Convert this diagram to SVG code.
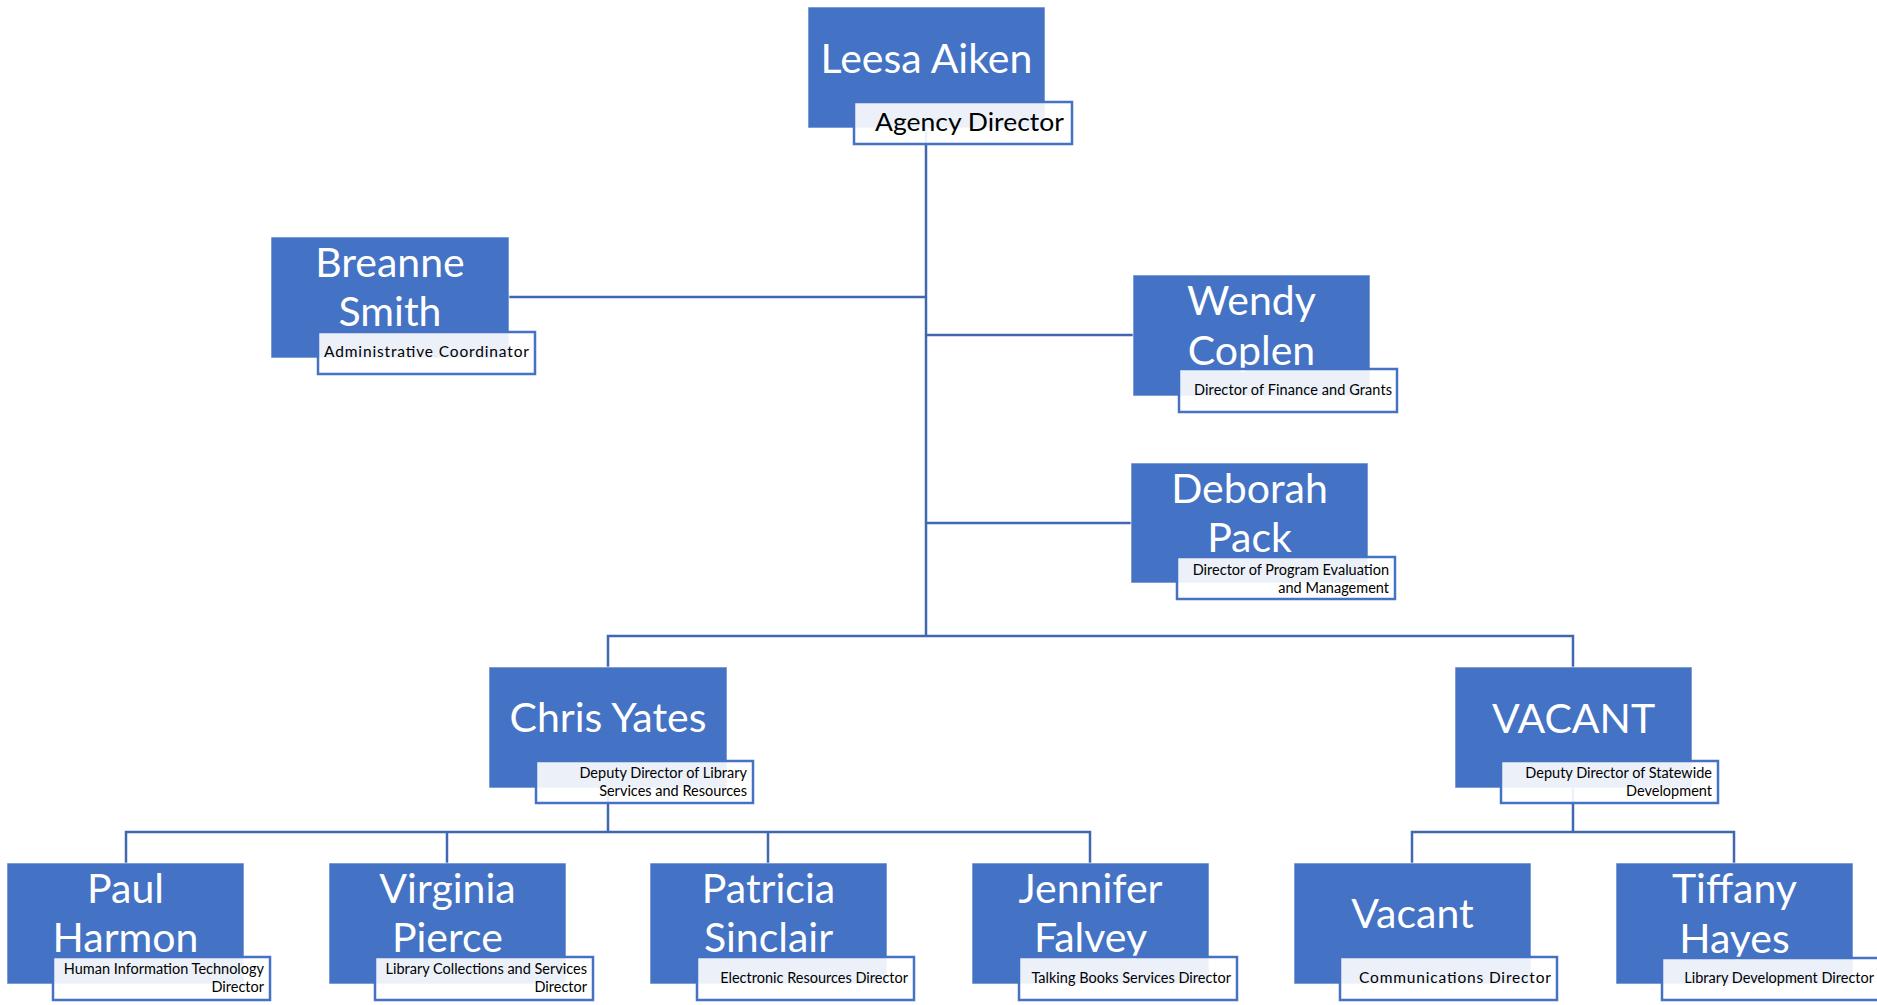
<svg xmlns="http://www.w3.org/2000/svg" width="1877" height="1005" viewBox="0 0 1877 1005">
<style>
.bg{fill:#ffffff}
.box{fill:#4472C4;stroke:#ffffff;stroke-opacity:0.6;stroke-width:1}
.lbl{fill:#ffffff;fill-opacity:0.9;stroke:#4472C4;stroke-width:2.5}
.conn{fill:none;stroke:#4068B0;stroke-width:2.5}
.name{font-family:Lato,"Liberation Sans",sans-serif;font-size:41px;fill:#ffffff;text-anchor:middle}
.t{font-family:Lato,"Liberation Sans",sans-serif;font-size:14.5px;fill:#000000;text-anchor:end}
.tm{font-family:Lato,"Liberation Sans",sans-serif;font-size:15.5px;fill:#000000;text-anchor:end}
.tb{font-family:Lato,"Liberation Sans",sans-serif;font-size:25px;fill:#000000;text-anchor:end}
</style>
<rect class="bg" x="0" y="0" width="1877" height="1005"/>
<g id="connectors">
<path class="conn" d="M926 128 V636"/>
<path class="conn" d="M509 297 H926"/>
<path class="conn" d="M926 335 H1133"/>
<path class="conn" d="M926 523 H1131"/>
<path class="conn" d="M608 667 V636 H1573 V667"/>
<path class="conn" d="M608 788 V832"/>
<path class="conn" d="M126 863 V832 H1090 V863"/>
<path class="conn" d="M447 832 V863"/>
<path class="conn" d="M768 832 V863"/>
<path class="conn" d="M1573 788 V832"/>
<path class="conn" d="M1412 863 V832 H1734 V863"/>
</g>
<g id="leesa">
<rect class="box" x="808" y="7" width="237" height="121"/>
<text class="name" x="926.5" y="73">Leesa Aiken</text>
<rect class="lbl" x="854" y="102" width="218" height="42"/>
<text class="tb" x="1064" y="131" textLength="189" lengthAdjust="spacingAndGlyphs">Agency Director</text>
</g>
<g id="breanne">
<rect class="box" x="271" y="237" width="238" height="121"/>
<text class="name" x="390" y="277">Breanne</text>
<text class="name" x="390" y="326">Smith</text>
<rect class="lbl" x="318" y="332" width="217" height="42"/>
<text class="tm" x="529" y="357" textLength="205" lengthAdjust="spacing">Administrative Coordinator</text>
</g>
<g id="wendy">
<rect class="box" x="1133" y="275" width="237" height="121"/>
<text class="name" x="1251.5" y="315">Wendy</text>
<text class="name" x="1251.5" y="365">Coplen</text>
<rect class="lbl" x="1179" y="369" width="218" height="43"/>
<text class="t" x="1392" y="395" textLength="198" lengthAdjust="spacing">Director of Finance and Grants</text>
</g>
<g id="deborah">
<rect class="box" x="1131" y="463" width="237" height="120"/>
<text class="name" x="1249.5" y="503">Deborah</text>
<text class="name" x="1249.5" y="552">Pack</text>
<rect class="lbl" x="1177" y="557" width="218" height="42"/>
<text class="t" x="1389" y="575">Director of Program Evaluation</text>
<text class="t" x="1389" y="593">and Management</text>
</g>
<g id="chris">
<rect class="box" x="489" y="667" width="238" height="121"/>
<text class="name" x="608" y="732">Chris Yates</text>
<rect class="lbl" x="536" y="761" width="217" height="42"/>
<text class="t" x="747" y="778">Deputy Director of Library</text>
<text class="t" x="747" y="796">Services and Resources</text>
</g>
<g id="vacant-deputy">
<rect class="box" x="1455" y="667" width="237" height="121"/>
<text class="name" x="1573.5" y="733">VACANT</text>
<rect class="lbl" x="1501" y="761" width="217" height="42"/>
<text class="t" x="1712" y="778">Deputy Director of Statewide</text>
<text class="t" x="1712" y="796">Development</text>
</g>
<g id="paul">
<rect class="box" x="7" y="863" width="237" height="121"/>
<text class="name" x="125.5" y="903">Paul</text>
<text class="name" x="125.5" y="952">Harmon</text>
<rect class="lbl" x="53" y="957" width="217" height="43"/>
<text class="t" x="264" y="974">Human Information Technology</text>
<text class="t" x="264" y="992">Director</text>
</g>
<g id="virginia">
<rect class="box" x="329" y="863" width="237" height="121"/>
<text class="name" x="447.5" y="903">Virginia</text>
<text class="name" x="447.5" y="952">Pierce</text>
<rect class="lbl" x="375" y="957" width="218" height="43"/>
<text class="t" x="587" y="974">Library Collections and Services</text>
<text class="t" x="587" y="992">Director</text>
</g>
<g id="patricia">
<rect class="box" x="650" y="863" width="237" height="121"/>
<text class="name" x="768.5" y="903">Patricia</text>
<text class="name" x="768.5" y="952">Sinclair</text>
<rect class="lbl" x="697" y="957" width="217" height="43"/>
<text class="t" x="908" y="983">Electronic Resources Director</text>
</g>
<g id="jennifer">
<rect class="box" x="972" y="863" width="237" height="121"/>
<text class="name" x="1090.5" y="903">Jennifer</text>
<text class="name" x="1090.5" y="952">Falvey</text>
<rect class="lbl" x="1019" y="957" width="218" height="43"/>
<text class="t" x="1231" y="983">Talking Books Services Director</text>
</g>
<g id="vacant-comm">
<rect class="box" x="1294" y="863" width="237" height="121"/>
<text class="name" x="1412.5" y="928">Vacant</text>
<rect class="lbl" x="1340" y="957" width="217" height="43"/>
<text class="tm" x="1551" y="983" textLength="192" lengthAdjust="spacing">Communications Director</text>
</g>
<g id="tiffany">
<rect class="box" x="1616" y="863" width="237" height="121"/>
<text class="name" x="1734.5" y="903">Tiffany</text>
<text class="name" x="1734.5" y="953">Hayes</text>
<rect class="lbl" x="1662" y="958" width="218" height="42"/>
<text class="t" x="1874" y="983">Library Development Director</text>
</g>
</svg>
